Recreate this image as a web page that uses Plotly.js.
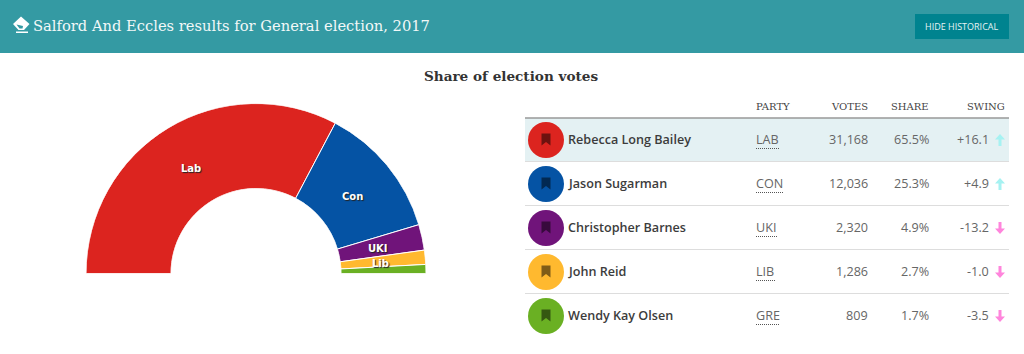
<!DOCTYPE html>
<html><head><meta charset="utf-8">
<script src="https://cdn.plot.ly/plotly-3.0.1.min.js"></script>
<style>html,body{margin:0;padding:0;background:#fff;overflow:hidden}#c{width:1024px;height:354px}</style>
</head><body><div id="c"></div>
<script>
const candidates=["Rebecca Long Bailey","Jason Sugarman","Christopher Barnes","John Reid","Wendy Kay Olsen"];
const parties=["LAB","CON","UKI","LIB","GRE"];
const sliceLabels=["Lab","Con","UKI","Lib",""];
const votes=[31168,12036,2320,1286,809];
const shares=["65.5%","25.3%","4.9%","2.7%","1.7%"];
const swings=[16.1,4.9,-13.2,-1.0,-3.5];
const colours=["#DC241F","#0553A4","#70147A","#FFB92F","#6AB023"];
const underlineWidths=[23,27,21,19,24];

const SERIF="'DejaVu Serif',serif", SANS="'Open Sans',sans-serif";
const total=votes.reduce((a,b)=>a+b,0);
let cum=0; const thetas=[],widths=[];
votes.forEach(v=>{const w=v/total*180;thetas.push(cum+w/2);widths.push(w);cum+=w;});

const rowY=i=>140+44*i;
const ann=[],shapes=[];
const T=(x,y,text,anchor,size,color,family,weight,shadow)=>ann.push({xref:'x',yref:'y',x,y,text,xanchor:anchor,yanchor:'middle',showarrow:false,
  font:{size,color,family,weight:weight||400,shadow:shadow||'none'},borderpad:0,borderwidth:0});

// page chrome
shapes.push({type:'rect',xref:'paper',yref:'paper',x0:0,x1:1,y0:1,y1:1-53/354,fillcolor:'#349AA3',line:{width:0},layer:'below'});
shapes.push({type:'rect',xref:'x',yref:'y',x0:915,x1:1009,y0:14,y1:39,fillcolor:'#00838F',line:{width:0},layer:'below'});
shapes.push({type:'path',xref:'x',yref:'y',path:'M21 16.5 L29.5 24 L24 30 L18.5 30 L13 24 Z M16 31.5 L28 31.5 L28 33 L16 33 Z',fillcolor:'#fff',line:{width:0}});
shapes.push({type:'path',xref:'x',yref:'y',path:'M16.5 24.5 L23 26 L22.5 28.5 L19.5 28.5 Z',fillcolor:'#349AA3',line:{width:0}});
T(33,25.5,'Salford And Eccles results for General election, 2017','left',14.7,'#F2F8F8',SERIF);
T(961,26.5,'HIDE HISTORICAL','center',9,'#E6F3F4',SANS);

// table header
T(756,106,'PARTY','left',10,'#444',SERIF);
T(868,106,'VOTES','right',10,'#444',SERIF);
T(929,106,'SHARE','right',10,'#444',SERIF);
T(1005,106,'SWING','right',10,'#444',SERIF);
shapes.push({type:'rect',xref:'x',yref:'y',x0:525,x1:1009,y0:118,y1:161,fillcolor:'#E4F1F3',line:{width:0},layer:'below'});
shapes.push({type:'line',xref:'x',yref:'y',x0:525,x1:1009,y0:118,y1:118,line:{color:'#999',width:1.5}});

candidates.forEach((name,i)=>{
  const y=rowY(i);
  if(i<4) shapes.push({type:'line',xref:'x',yref:'y',x0:525,x1:1009,y0:y+21.5,y1:y+21.5,line:{color:'#DDD',width:1}});
  shapes.push({type:'path',xref:'x',yref:'y',fillcolor:'rgba(0,0,0,0.5)',line:{width:0},
    path:`M${546-4.5} ${y-6.5} L${546+4.5} ${y-6.5} L${546+4.5} ${y+5.5} L546 ${y+2} L${546-4.5} ${y+5.5} Z`});
  T(567.5,y-1,name,'left',12.6,'#3C3C3C',SANS,600);
  T(756,y-1,parties[i],'left',12.6,'#666',SANS);
  shapes.push({type:'line',xref:'x',yref:'y',x0:756,x1:756+underlineWidths[i],y0:y+8.5,y1:y+8.5,line:{color:'#555',width:1,dash:'1px,1px'}});
  T(868,y-1,votes[i].toLocaleString('en-GB'),'right',12.6,'#666',SANS);
  T(929,y-1,shares[i],'right',12.6,'#666',SANS);
  const sw=swings[i];
  T(989,y-1,(sw>0?'+':'-')+Math.abs(sw).toFixed(1),'right',12.6,'#666',SANS);
  const ax=1000, up=sw>0, d=up?1:-1, col=up?'#A6F2F2':'#FF85DC';
  shapes.push({type:'path',xref:'x',yref:'y',fillcolor:col,line:{width:0},
    path:`M${ax} ${y-6*d} L${ax+5} ${y-0.5*d} L${ax+1.5} ${y-0.5*d} L${ax+1.5} ${y+6*d} L${ax-1.5} ${y+6*d} L${ax-1.5} ${y-0.5*d} L${ax-5} ${y-0.5*d} Z`});
});

// slice labels placed at each slice's mid-angle
sliceLabels.forEach((lab,i)=>{
  if(!lab) return;
  const a=thetas[i]*Math.PI/180;
  T(256-125*Math.cos(a),275.5-125*Math.sin(a),lab,'center',10,'#fff',"'DejaVu Sans',sans-serif",700,'1px 1px 1px #222');
});

const data=[
 {type:'barpolar',subplot:'polar',r:votes.map(()=>1),theta:thetas,width:widths,
  marker:{color:colours,line:{color:'#fff',width:1}},hoverinfo:'skip',showlegend:false},
 {type:'scatter',xaxis:'x',yaxis:'y',mode:'markers',x:candidates.map(()=>546),y:candidates.map((_,i)=>rowY(i)),
  marker:{size:36,color:colours,line:{width:0}},hoverinfo:'skip',showlegend:false,cliponaxis:false}
];
const layout={
 width:1024,height:354,margin:{l:0,r:0,t:0,b:0},paper_bgcolor:'#fff',plot_bgcolor:'rgba(0,0,0,0)',showlegend:false,
 title:{text:'<b>Share of election votes</b>',x:511/1024,xanchor:'center',y:1-76/354,yanchor:'middle',
   font:{family:SERIF,size:13.6,color:'#333'}},
 xaxis:{range:[0,1024],visible:false,fixedrange:true,domain:[0,1]},
 yaxis:{range:[354,0],visible:false,fixedrange:true,domain:[0,1]},
 polar:{domain:{x:[86/1024,426/1024],y:[1-273.5/354,1-103.5/354]},sector:[0,180],hole:0.5,bgcolor:'rgba(0,0,0,0)',
   radialaxis:{visible:false,range:[0,1]},
   angularaxis:{visible:false,direction:'clockwise',rotation:180,thetaunit:'degrees'}},
 annotations:ann,shapes:shapes
};
Plotly.newPlot('c',data,layout,{displayModeBar:false,staticPlot:true});
</script></body></html>
